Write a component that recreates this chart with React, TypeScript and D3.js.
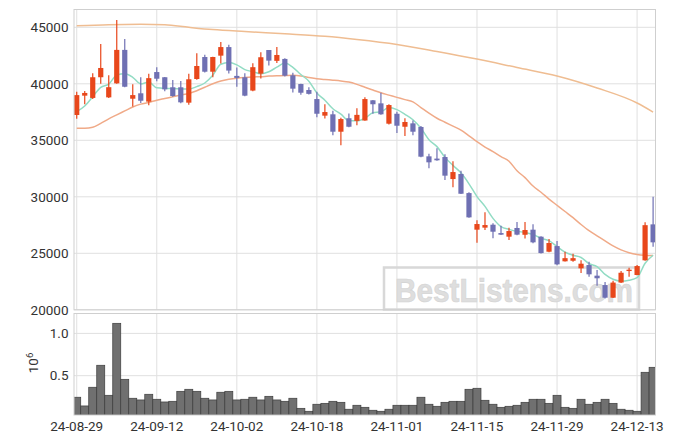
import React, { useEffect, useRef } from 'react';
import * as d3 from 'd3';

// Daily OHLC (KRW), trading days from 24-08-29
const opens = [37240, 38950, 38750, 40580, 38800, 40040, 43000, 38680, 39160, 38420,
  41040, 40580, 39690, 39690, 38330, 40425, 42370, 41070, 42490, 43250,
  40700, 40575, 39400, 40900, 42990, 42030, 42200, 40750, 39980, 39450,
  38650, 37180, 37300, 35760, 36950, 36720, 36750, 38540, 38270, 36470,
  37350, 36200, 36500, 36180, 33580, 33380, 33520, 31570, 32020, 30330,
  27090, 27270, 27530, 26790, 26470, 27240, 26640, 27090, 26470, 25140,
  25640, 24290, 24340, 23670, 23960, 23020, 22190, 21070, 22410, 23430,
  23080, 24380, 27560];
const highs = [39300, 39360, 40930, 43520, 40750, 45650, 43960, 39950, 40575, 40900,
  41460, 40600, 40340, 40250, 40880, 42700, 42580, 42400, 43700, 43450,
  41450, 40930, 41810, 42800, 43000, 43250, 42250, 40980, 40000, 39690,
  39300, 38200, 37620, 37000, 37370, 37830, 38800, 38560, 39210, 38200,
  37530, 36950, 36750, 36270, 33800, 34290, 33760, 33140, 32310, 30400,
  27920, 28630, 27650, 27440, 27260, 27770, 27770, 27560, 26500, 26260,
  26090, 25140, 24960, 24380, 24260, 23520, 22460, 22580, 23430, 23730,
  23960, 27740, 30010];
const lows = [36900, 38200, 38650, 40000, 38750, 40000, 39700, 38000, 38300, 38100,
  40220, 39340, 38860, 38280, 38150, 40350, 41000, 40570, 41800, 40920,
  39740, 38900, 39350, 40470, 41630, 41850, 40650, 39230, 39030, 39050,
  37050, 36930, 35450, 34560, 36150, 36330, 36730, 37350, 37250, 36400,
  35650, 35380, 35450, 33500, 32520, 33200, 31490, 30840, 30250, 28150,
  25940, 27060, 26330, 26630, 26180, 26600, 26300, 25880, 24980, 25100,
  23940, 24270, 24260, 23250, 22930, 22130, 21000, 21050, 22380, 22930,
  23050, 24350, 25580];
const closes = [39000, 39190, 40580, 41400, 39700, 43000, 39740, 39000, 38500, 40500,
  40450, 39510, 38920, 38360, 40400, 41575, 41070, 42370, 43250, 41170,
  40520, 38950, 41470, 42350, 42050, 42550, 40720, 39570, 39210, 39110,
  37350, 37500, 35760, 36880, 36200, 37250, 38650, 38190, 37300, 38120,
  36290, 36620, 35760, 33550, 33050, 33230, 31870, 32190, 30270, 28180,
  27590, 27500, 26910, 26650, 26970, 26650, 27060, 25970, 25020, 25910,
  24020, 24570, 24570, 24080, 23140, 22790, 21070, 22410, 23280, 23550,
  23870, 27490, 25970];

// Volume, millions of shares
const volumes = [0.245, 0.142, 0.363, 0.623, 0.268, 1.119, 0.457, 0.233, 0.213, 0.280,
  0.221, 0.189, 0.197, 0.315, 0.339, 0.315, 0.233, 0.213, 0.304, 0.315,
  0.213, 0.221, 0.245, 0.213, 0.256, 0.213, 0.197, 0.233, 0.114, 0.079,
  0.162, 0.173, 0.197, 0.185, 0.103, 0.150, 0.126, 0.091, 0.079, 0.103,
  0.150, 0.150, 0.150, 0.245, 0.162, 0.138, 0.185, 0.197, 0.197, 0.339,
  0.351, 0.209, 0.162, 0.126, 0.138, 0.150, 0.185, 0.221, 0.221, 0.173,
  0.268, 0.126, 0.114, 0.221, 0.162, 0.185, 0.221, 0.173, 0.103, 0.091,
  0.079, 0.540, 0.599];

// Moving averages
const maShort = [37530, 38030, 38860, 39690, 39970, 40770, 40880, 40570, 39990, 40150,
  39640, 39590, 39580, 39550, 39530, 39750, 40070, 40760, 41730, 41890,
  41680, 41250, 41070, 40890, 41070, 41470, 41830, 41450, 40820, 40230,
  39190, 38550, 37790, 37320, 36740, 36720, 36950, 37430, 37520, 37900,
  37710, 37300, 36820, 36070, 35050, 34440, 33490, 32780, 32120, 31150,
  30020, 29150, 28090, 27370, 27120, 26940, 26850, 26660, 26330, 26120,
  25600, 25100, 24820, 24630, 24080, 23830, 23130, 22700, 22540, 22620,
  22840, 24120, 24830];
const maMid = [36060, 36060, 36150, 36500, 36900, 37250, 37600, 37950, 38200, 38350,
  38550, 38700, 38850, 39000, 39150, 39390, 39700, 40000, 40250, 40400,
  40500, 40560, 40600, 40630, 40680, 40710, 40730, 40750, 40700, 40550,
  40450, 40380, 40320, 40250, 40150, 39950, 39700, 39450, 39200, 39000,
  38800, 38600, 38400, 37900, 37400, 36950, 36600, 36250, 35900, 35400,
  34880, 34400, 34000, 33550, 33150, 32300, 31700, 30950, 30400, 29800,
  29250, 28700, 28150, 27550, 27000, 26550, 26100, 25650, 25300, 25050,
  24900, 24830, 24800];
const maLongIdx = [0, 4, 8, 11, 14, 17, 21, 26, 31, 35, 40, 45, 50, 55, 60, 65, 70, 72];
const maLong = [45140, 45230, 45260, 45220, 45000, 44800, 44620, 44420, 44200, 43920,
  43480, 42860, 42190, 41440, 40690, 39630, 38300, 37500];

const tickIdx = [0, 10, 20, 30, 40, 50, 60, 70];
const tickLabels = ['24-08-29', '24-09-12', '24-10-02', '24-10-18', '24-11-01', '24-11-15', '24-11-29', '24-12-13'];
const priceTicks = [20000, 25000, 30000, 35000, 40000, 45000];
const volTicks = [0.5, 1.0];

const App = () => {
  const svgRef = useRef(null);

  useEffect(() => {
    document.body.style.margin = '0';
    const svg = d3.select(svgRef.current);
    svg.selectAll('*').remove();

    const left = 74, right = 655.5;
    const pTop = 9.5, pBot = 309.8;
    const vTop = 313.5, vBot = 415;
    const font = 'Roboto, "Noto Sans", sans-serif';

    const x = d3.scaleLinear().domain([-0.34, 72.3]).range([left, right]);
    const y = d3.scaleLinear().domain([20000, 46575]).range([pBot, pTop]);
    const yv = d3.scaleLinear().domain([0.035, 1.235]).range([vBot, vTop]);

    const defs = svg.append('defs');
    defs.append('clipPath').attr('id', 'clip-p')
      .append('rect').attr('x', left).attr('y', pTop).attr('width', right - left).attr('height', pBot - pTop);
    defs.append('clipPath').attr('id', 'clip-v')
      .append('rect').attr('x', left).attr('y', vTop).attr('width', right - left).attr('height', vBot - vTop);

    const grid = '#e0e0e0';
    const frame = '#cfcfcf';

    // Grid lines
    const g = svg.append('g');
    tickIdx.forEach(i => {
      g.append('line').attr('x1', x(i)).attr('x2', x(i)).attr('y1', pTop).attr('y2', pBot).attr('stroke', grid);
      g.append('line').attr('x1', x(i)).attr('x2', x(i)).attr('y1', vTop).attr('y2', vBot).attr('stroke', grid);
    });
    priceTicks.forEach(p => {
      g.append('line').attr('x1', left).attr('x2', right).attr('y1', y(p)).attr('y2', y(p)).attr('stroke', grid);
    });
    volTicks.forEach(v => {
      g.append('line').attr('x1', left).attr('x2', right).attr('y1', yv(v)).attr('y2', yv(v)).attr('stroke', grid);
    });

    // Watermark
    const wm = svg.append('g');
    wm.append('rect')
      .attr('x', 384).attr('y', 267.5).attr('width', 255).attr('height', 42)
      .attr('fill', 'none').attr('stroke', '#d8d8d8').attr('stroke-width', 2.5);
    wm.append('text')
      .attr('x', 395).attr('y', 301.5)
      .attr('font-family', '"Liberation Sans", Arial, sans-serif')
      .attr('font-weight', 'bold').attr('font-size', 34)
      .attr('textLength', 238).attr('lengthAdjust', 'spacingAndGlyphs')
      .attr('fill', '#dedede').attr('stroke', '#d2d2d2').attr('stroke-width', 0.6)
      .text('BestListens.com');

    // Moving averages
    const pg = svg.append('g').attr('clip-path', 'url(#clip-p)');
    const lineIdx = d3.line<number>().x((d, i) => x(i)).y(d => y(d)).curve(d3.curveMonotoneX);
    pg.append('path').datum(maLong)
      .attr('d', d3.line<number>().x((d, i) => x(maLongIdx[i])).y(d => y(d)).curve(d3.curveMonotoneX))
      .attr('fill', 'none').attr('stroke', '#efbd92').attr('stroke-width', 1.5);
    pg.append('path').datum(maMid).attr('d', lineIdx)
      .attr('fill', 'none').attr('stroke', '#f0aa88').attr('stroke-width', 1.5);
    pg.append('path').datum(maShort).attr('d', lineIdx)
      .attr('fill', 'none').attr('stroke', '#92dcc4').attr('stroke-width', 1.5);

    // Candles
    const up = '#e8471b', down = '#6f70b3';
    closes.forEach((c, i) => {
      const o = opens[i];
      const col = c >= o ? up : down;
      const cx = x(i);
      pg.append('line').attr('x1', cx).attr('x2', cx).attr('y1', y(highs[i])).attr('y2', y(lows[i]))
        .attr('stroke', col).attr('stroke-width', 1.2);
      const yt = y(Math.max(o, c)), yb = y(Math.min(o, c));
      pg.append('rect').attr('x', cx - 2.6).attr('width', 5.2)
        .attr('y', yt).attr('height', Math.max(1.2, yb - yt)).attr('fill', col);
    });

    // Volume bars
    const vg = svg.append('g').attr('clip-path', 'url(#clip-v)');
    volumes.forEach((v, i) => {
      vg.append('rect')
        .attr('x', x(i - 0.5)).attr('width', x(i + 0.5) - x(i - 0.5))
        .attr('y', yv(v)).attr('height', vBot - yv(v))
        .attr('fill', '#707070').attr('stroke', '#3c3c3c').attr('stroke-width', 0.7);
    });

    // Frames
    svg.append('rect').attr('x', left).attr('y', pTop).attr('width', right - left).attr('height', pBot - pTop)
      .attr('fill', 'none').attr('stroke', frame);
    svg.append('rect').attr('x', left).attr('y', vTop).attr('width', right - left).attr('height', vBot - vTop)
      .attr('fill', 'none').attr('stroke', frame);

    // Axis labels
    const lab = svg.append('g').attr('font-family', font).attr('font-size', 13.5).attr('fill', '#333');
    priceTicks.forEach(p => {
      lab.append('text').attr('x', 68.5).attr('y', y(p)).attr('dy', '0.35em')
        .attr('text-anchor', 'end').text(String(p));
    });
    volTicks.forEach(v => {
      lab.append('text').attr('x', 68.5).attr('y', yv(v)).attr('dy', '0.35em')
        .attr('text-anchor', 'end').text(v.toFixed(1));
    });
    tickIdx.forEach((t, k) => {
      lab.append('text').attr('x', x(t)).attr('y', 431)
        .attr('text-anchor', 'middle').text(tickLabels[k]);
    });
    const unit = lab.append('text')
      .attr('transform', 'translate(38,363) rotate(-90)')
      .attr('text-anchor', 'middle');
    unit.append('tspan').text('10');
    unit.append('tspan').attr('dy', -5).attr('font-size', 9.5).text('6');
  }, []);

  return <svg ref={svgRef} width={675} height={444} style={{ display: 'block' }} />;
};

export default App;
